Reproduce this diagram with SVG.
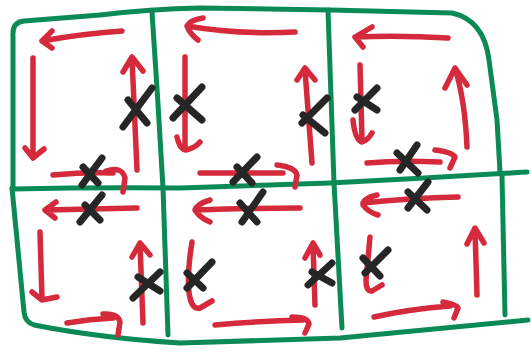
<svg xmlns="http://www.w3.org/2000/svg" width="531" height="352" viewBox="0 0 531 352">
<style>
.g{fill:none;stroke:#0b8a56;stroke-width:5;stroke-linecap:round;stroke-linejoin:round}
.r{fill:none;stroke:#d42a3c;stroke-width:5.5;stroke-linecap:round;stroke-linejoin:round}
.k{fill:none;stroke:#262626;stroke-width:7;stroke-linecap:round}
</style>
<rect width="531" height="352" fill="#fff"/>
<g id="grid">
<path class="g" d="M13,188 L13,36 Q12,22 24,21 L100,15 Q150,9 200,8 L330,10 L452,13 Q484,20 489,60 L497,120 L500,172"/>
<path class="g" d="M12,188 L24,312 Q25,322 34,325 Q100,338 180,343 L340,338 L528,320"/>
<path class="g" d="M152,12 Q158,100 163,188 L168,335"/>
<path class="g" d="M328,10 L334,183 L342,328"/>
<path class="g" d="M502,176 L505,315"/>
<path class="g" d="M12,189 Q100,187 180,188 L330,183 Q430,178 527,172"/>
</g>
<g id="cell-top-left">
<path class="r" d="M122,31 Q80,34 42,41 M52,31 L42,41 L52,48"/>
<path class="r" d="M33,58 L33,157 M25,148 L33,158 L44,149"/>
<path class="r" d="M137,170 L132,58 M123,72 L132,57 L143,71"/>
<path class="r" d="M53,175 Q85,172 113,173 M106,171 Q122,166 125,178 L123,192"/>
</g>
<g id="cell-bottom-left">
<path class="r" d="M137,208 Q90,209 45,210 M56,202 L45,210 L55,218"/>
<path class="r" d="M40,232 L42,299 M32,292 L42,300 L57,297"/>
<path class="r" d="M143,323 L140,244 M132,257 L140,243 L150,255"/>
<path class="r" d="M67,323 Q90,319 113,318 M103,314 Q118,313 120,322 L118,335"/>
</g>
<g id="cell-top-middle">
<path class="r" d="M295,32 Q240,35 187,26 M203,18 Q190,20 187,26 Q190,34 198,40"/>
<path class="r" d="M185,57 L185,147 M177,137 Q180,150 186,150 Q195,148 200,142"/>
<path class="r" d="M312,163 L305,70 M297,80 L305,68 L315,80"/>
<path class="r" d="M200,173 L283,173 M277,165 Q295,167 297,175 L295,187"/>
</g>
<g id="cell-bottom-middle">
<path class="r" d="M300,208 Q250,208 195,210 M210,200 Q197,204 195,210 Q200,218 210,222"/>
<path class="r" d="M192,242 Q186,280 190,298 Q193,310 200,308 L212,301"/>
<path class="r" d="M315,305 L313,245 M305,258 L313,243 L320,255"/>
<path class="r" d="M215,325 Q260,321 303,320 M292,317 Q308,317 309,324 L305,333"/>
</g>
<g id="cell-top-right">
<path class="r" d="M448,38 Q400,35 355,37 M372,27 L355,37 L363,47"/>
<path class="r" d="M360,65 L362,140 M353,120 Q355,140 362,142 Q368,140 372,133"/>
<path class="r" d="M467,147 Q465,100 455,68 M445,88 L455,68 L467,85"/>
<path class="r" d="M367,163 Q400,160 440,162 M435,150 Q452,152 455,157 L450,168"/>
</g>
<g id="cell-bottom-right">
<path class="r" d="M458,197 Q410,198 363,203 M377,195 Q363,198 363,205 Q368,212 378,215"/>
<path class="r" d="M370,237 L366,280 Q366,292 372,291 L382,285"/>
<path class="r" d="M477,295 L475,230 M467,244 L475,228 L484,243"/>
<path class="r" d="M374,317 Q410,309 450,306 M443,302 Q458,305 458,308 L454,318"/>
</g>
<g id="crosses">
<path class="k" d="M123,127 L152,88 M128,100 L147,123"/>
<path class="k" d="M82,185 L102,158 M83,167 L98,183"/>
<path class="k" d="M80,222 L102,195 M85,205 L100,220"/>
<path class="k" d="M133,298 L160,272 M138,277 L160,291"/>
<path class="k" d="M173,118 L202,87 M177,98 L202,120"/>
<path class="k" d="M302,123 L327,98 M303,115 L325,133"/>
<path class="k" d="M233,182 L257,157 M237,167 L252,183"/>
<path class="k" d="M242,222 L263,192 M240,203 L257,222"/>
<path class="k" d="M187,288 L212,262 M187,273 L203,288"/>
<path class="k" d="M308,285 L332,263 M312,272 L332,283"/>
<path class="k" d="M355,110 L377,88 M357,97 L377,110"/>
<path class="k" d="M400,170 L417,145 M397,153 L418,173"/>
<path class="k" d="M408,208 L428,182 M408,192 L427,210"/>
<path class="k" d="M365,273 L388,250 M363,258 L380,276"/>
</g>
</svg>
